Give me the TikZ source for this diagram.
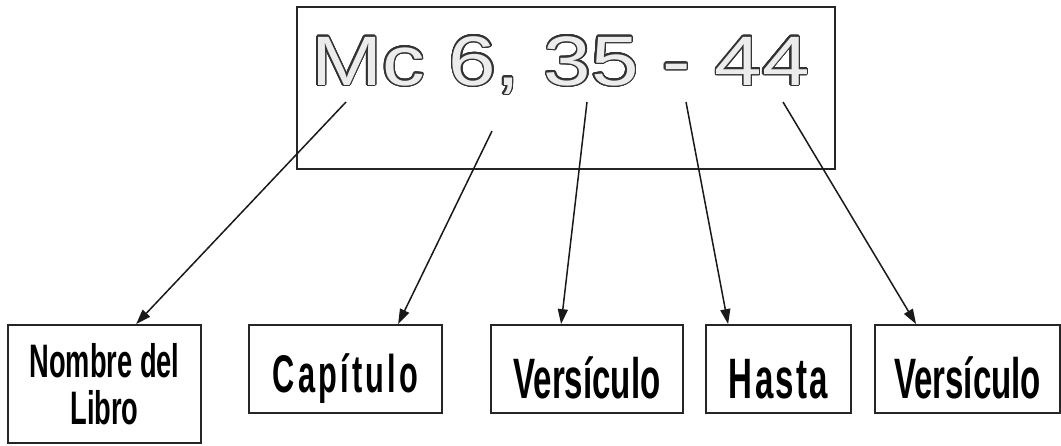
\documentclass[tikz,border=0pt]{standalone}
\usepackage{fontspec}
\setmainfont{Liberation Sans}
\newfontfamily\boxfont[FakeStretch=0.58]{Liberation Sans Bold}
\newfontfamily\citafont[FakeStretch=1.22]{Liberation Sans}
\usepackage{contour}
\contourlength{1.4pt}
\contournumber{32}
\usetikzlibrary{arrows.meta,positioning}

\begin{document}
\begin{tikzpicture}[x=1pt,y=-1pt,
	caja/.style={draw=black!85,line width=1.8pt,inner sep=0pt,
		minimum height=88pt,text height=58pt,text depth=0pt,
		font=\boxfont\fontsize{57}{60}\selectfont},
	flecha/.style={-{Triangle[length=15pt,width=10pt]},line width=1.5pt,black!90}]
	\useasboundingbox (0,0) rectangle (1061,445);

	\node[draw=black!85,line width=1.8pt,minimum width=538pt,minimum height=162pt] (marco) at (566,88) {};
	\node[anchor=base west,inner sep=0pt,font=\citafont\fontsize{70}{80}\selectfont] (cita) at (311,85)
		{\contour{black!80}{\color{gray!15}Mc 6, 35 - 44}};

	\node[caja,minimum width=193pt,minimum height=118pt,text height=32pt,text depth=46pt,
		font=\boxfont\fontsize{47}{46}\selectfont] (libro) at (104.5,384)
		{\begin{tabular}[t]{@{}c@{}}Nombre del\\Libro\end{tabular}};
	\node[caja,minimum width=193pt,text height=46pt,
		font=\boxfont\addfontfeature{LetterSpace=6}\fontsize{53}{60}\selectfont] (capitulo) at (345.5,369) {Capítulo};
	\node[caja,minimum width=192pt] (versiculoA) at (587,369) {Versículo};
	\node[caja,minimum width=145pt,
		font=\boxfont\addfontfeature{LetterSpace=4}\fontsize{57}{60}\selectfont] (hasta) at (778.5,369) {Hasta};
	\node[caja,minimum width=185pt] (versiculoB) at (967.5,369) {Versículo};

	% puntos de partida en la cita
	\coordinate (pLibro) at (346,102);
	\coordinate (pCapitulo) at (492,131);
	\coordinate (pVersiculoA) at (587,102);
	\coordinate (pHasta) at (686,102);
	\coordinate (pVersiculoB) at (783,102);

	\draw[flecha] (pLibro) -- ([xshift=129pt]libro.north west);
	\draw[flecha] (pCapitulo) -- ([xshift=150pt]capitulo.north west);
	\draw[flecha] (pVersiculoA) -- ([xshift=71pt]versiculoA.north west);
	\draw[flecha] (pHasta) -- ([xshift=23pt]hasta.north west);
	\draw[flecha] (pVersiculoB) -- ([xshift=42pt]versiculoB.north west);
\end{tikzpicture}
\end{document}
